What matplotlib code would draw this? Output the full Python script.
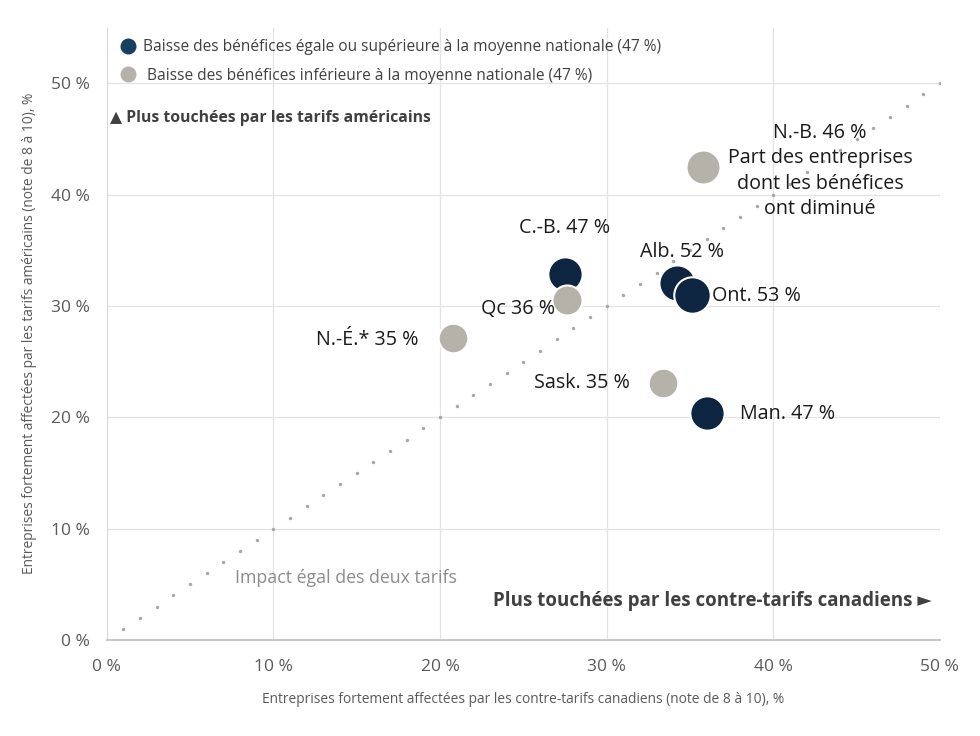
import matplotlib
matplotlib.use('Agg')
import matplotlib.pyplot as plt
from matplotlib.lines import Line2D
from matplotlib.ticker import FuncFormatter

plt.rcParams['font.family'] = ['Open Sans', 'DejaVu Sans']

# provinces: x = contre-tarifs canadiens %, y = tarifs americains %, size = part benefices %
provinces = ['C.-B.', 'Alb.', 'Ont.', 'Man.', 'Qc', 'N.-É.*', 'Sask.', 'N.-B.']
canada_pct = [27.5, 34.2, 35.1, 36.0, 27.6, 20.8, 33.4, 35.8]
usa_pct = [32.9, 32.1, 31.0, 20.4, 30.5, 27.1, 23.1, 42.5]
profit_pct = [47, 52, 53, 47, 36, 35, 35, 46]
above_avg = [True, True, True, True, False, False, False, False]

# label offsets in points and alignment
label_offsets = [(0, 33), (4, 22), (15, -1), (24, -1), (-8, -6), (-25, -1), (-24, 0), (84, -3)]
label_ha = ['center', 'center', 'left', 'left', 'right', 'right', 'right', 'center']

equal_line = list(range(1, 51))

DARK = '#0d2540'
DARK_LEG = '#173f5f'
GREY = '#b5b2aa'
TXT = '#595959'

fig = plt.figure(figsize=(9.8, 7.36), dpi=100)
ax = fig.add_axes([0.109, 0.1304, 0.85, 0.832])

ax.scatter(equal_line, equal_line, s=6, color='#a6a6a6', zorder=2, linewidths=0)

# draw order so Qc sits on C.-B. and Ont. on Alb.
for i in range(len(provinces)):
    ax.scatter(canada_pct[i], usa_pct[i], s=profit_pct[i] * 13, color=DARK if above_avg[i] else GREY,
               edgecolors='white', linewidths=1.5, zorder=3 + i)
    text = f'{provinces[i]} {profit_pct[i]} %'
    if provinces[i] == 'N.-B.':
        text += '\nPart des entreprises\ndont les bénéfices\nont diminué'
    ax.annotate(text, (canada_pct[i], usa_pct[i]), xytext=label_offsets[i],
                textcoords='offset points', ha=label_ha[i], va='center',
                fontsize=14.2, color='#1a1a1a', linespacing=1.37, zorder=20)

ax.set_xlim(0, 50)
ax.set_ylim(0, 55)
ax.set_xticks([0, 10, 20, 30, 40, 50])
ax.set_yticks([0, 10, 20, 30, 40, 50])
pct = FuncFormatter(lambda v, p: f'{v:.0f} %')
ax.xaxis.set_major_formatter(pct)
ax.yaxis.set_major_formatter(pct)
ax.tick_params(length=0, labelsize=12.5, colors=TXT)
ax.tick_params(axis='x', pad=14)
ax.tick_params(axis='y', pad=12)
ax.grid(True, color='#e3e3e3', lw=0.9, zorder=0)
ax.set_axisbelow(True)
for side in ['top', 'right']:
    ax.spines[side].set_visible(False)
ax.spines['left'].set_color('#d9d9d9')
ax.spines['bottom'].set_color('#bfbfbf')
ax.spines['bottom'].set_linewidth(1.2)

ax.set_xlabel('Entreprises fortement affectées par les contre-tarifs canadiens (note de 8 à 10), %',
              fontsize=9.9, color=TXT, labelpad=12)
ax.set_ylabel('Entreprises fortement affectées par les tarifs américains (note de 8 à 10), %',
              fontsize=9.9, color=TXT, labelpad=10)

ax.text(0.004, 0.853, '▲ Plus touchées par les tarifs américains', transform=ax.transAxes,
        fontsize=11.3, fontweight='bold', color='#404040', va='center', ha='left')
ax.text(0.99, 0.063, 'Plus touchées par les contre-tarifs canadiens ►', transform=ax.transAxes,
        fontsize=13.5, fontweight='bold', color='#404040', va='center', ha='right')
ax.text(7.7, 5.6, 'Impact égal des deux tarifs', fontsize=12.8, color='#8c8c8c', va='center')

handles = [Line2D([], [], marker='o', ls='', ms=11.5, color=DARK_LEG, mec='none'),
           Line2D([], [], marker='o', ls='', ms=11.5, color=GREY, mec='none')]
labels = ['Baisse des bénéfices égale ou supérieure à la moyenne nationale (47 %)',
          ' Baisse des bénéfices inférieure à la moyenne nationale (47 %)']
leg = ax.legend(handles, labels, loc='upper left', bbox_to_anchor=(0.0, 1.0), frameon=False,
                fontsize=11.2, handletextpad=0.4, labelspacing=0.8, borderaxespad=0.35,
                handlelength=1.2)
for t in leg.get_texts():
    t.set_color('#404040')

fig.savefig('out.png', dpi=100)
